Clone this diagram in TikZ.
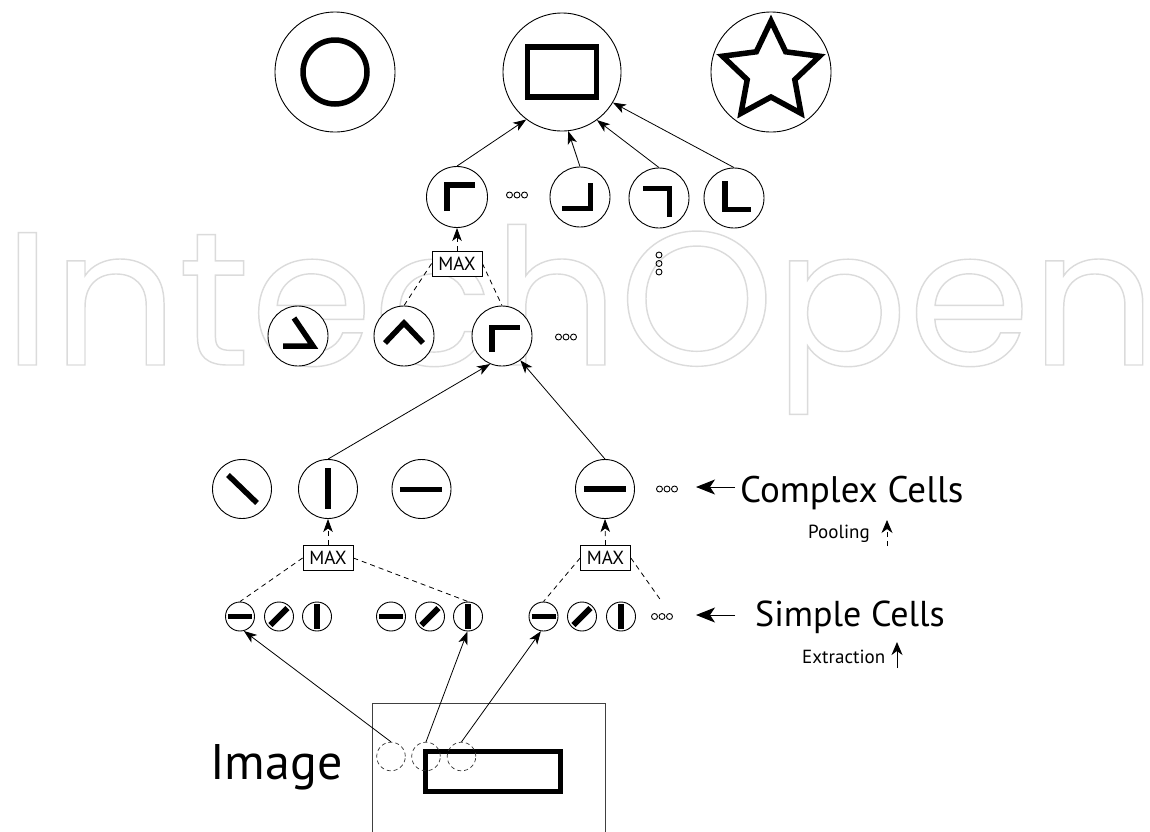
\documentclass[tikz,border=0pt]{standalone}
\usepackage{fontspec}
\setmainfont{PT Sans}
\newfontfamily\markfont{Poppins}
\usetikzlibrary{arrows.meta}

% outlined (stroked, unfilled) text for the background mark
\newcommand\outlinetext[1]{%
  \special{pdf:literal direct 1 Tr 1.4 w}#1\special{pdf:literal direct 0 Tr 0.4 w}}

\tikzset{
  cell/.style={circle, draw, line width=0.9pt, fill=white, inner sep=0pt, minimum size=#1},
  cell/.default=60pt,
  glyph/.style={line width=5.5pt, line cap=butt, line join=miter},
  thinglyph/.style={line width=5.8pt, line cap=butt},
  labelarrow/.style={line width=1pt, -{Stealth[length=19pt, width=15pt, inset=5pt]}},
  link/.style={line width=0.8pt, -{Stealth[length=13pt, width=9.5pt, inset=3.5pt]}},
  pooldash/.style={line width=0.8pt, dash pattern=on 5pt off 4pt},
  poollink/.style={pooldash, -{Stealth[length=13pt, width=9.5pt, inset=3.5pt]}},
  maxbox/.style={draw, line width=0.8pt, fill=white, minimum width=50pt, minimum height=25pt,
                 inner sep=0pt, font=\fontsize{19}{19}\selectfont},
  hdots/.pic={\foreach \d in {-7.5,0,7.5} \draw[line width=0.9pt] (\d,0) circle (3);},
  vdots/.pic={\foreach \d in {-8.5,0,8.5} \draw[line width=0.9pt] (0,\d) circle (3);},
  label/.style={anchor=base west, inner sep=0pt},
}

\begin{document}
\begin{tikzpicture}[x=1pt, y=-1pt]
\useasboundingbox (0,0) rectangle (1150,831);

% publisher mark in the background
\node[label, text=black!14] (mark) at (3,365)
  {\scalebox{1.04}[1]{\fontsize{190}{190}\markfont\outlinetext{IntechOpen}}};

% ---------- object layer ----------
\node[cell=120pt] (big1) at (335,72) {};
\node[cell=118pt] (big2) at (562,72) {};
\node[cell=120pt] (big3) at (771,72) {};
\draw[glyph] (big1.center) circle (32);
\draw[glyph] ([shift={(-34.5,-25)}]big2.center) rectangle ([shift={(34.5,25)}]big2.center);
\begin{scope}[shift={(big3.center)}]
  \draw[glyph] (0,-51) -- (14.7,-20.2) -- (48.5,-15.8) -- (23.8,7.7) -- (30,41.3)
    -- (0,25) -- (-30,41.3) -- (-23.8,7.7) -- (-48.5,-15.8) -- (-14.7,-20.2) -- cycle;
\end{scope}

% ---------- corner layer ----------
\node[cell=61pt] (c1) at (457,197) {};
\node[cell=60pt] (c2) at (580,197) {};
\node[cell=60pt] (c3) at (659,198) {};
\node[cell=60pt] (c4) at (734,198) {};
\pic at (517,195) {hdots};
\pic at (659,263.5) {vdots};
\begin{scope}[shift={(c1.center)}]
  \draw[glyph] (-10,14) -- (-10,-12) -- (18,-12);
\end{scope}
\begin{scope}[shift={(c2.center)}]
  \draw[glyph] (-18,11.5) -- (10.5,11.5) -- (10.5,-14);
\end{scope}
\begin{scope}[shift={(c3.center)}]
  \draw[glyph] (-16,-9.5) -- (10.5,-9.5) -- (10.5,19);
\end{scope}
\begin{scope}[shift={(c4.center)}]
  \draw[glyph] (-9,-17) -- (-9,11.5) -- (17,11.5);
\end{scope}

\draw[link] (c1.north) -- (big2.233);
\draw[link] (c2.north) -- (big2.-84);
\draw[link] (c3.north) -- (big2.-54);
\draw[link] (c4.north) -- (big2.-31);

\node[maxbox] (max1) at (457,263.5) {MAX};
\draw[poollink] (max1.north) -- (c1.south);

% ---------- composite layer ----------
\node[cell] (r1) at (298,336) {};
\node[cell] (r2) at (404,336) {};
\node[cell] (r3) at (502,336) {};
\pic at (566,337) {hdots};
\begin{scope}[shift={(r1.center)}]
  \draw[glyph] (-4,-18) -- (15,10) -- (-15,10);
\end{scope}
\begin{scope}[shift={(r2.center)}]
  \draw[glyph] (-19,7) -- (0,-13) -- (19,7);
\end{scope}
\begin{scope}[shift={(r3.center)}]
  \draw[glyph] (-10,16) -- (-10,-8.5) -- (18,-8.5);
\end{scope}
\draw[pooldash] (max1.west) -- (r2.north);
\draw[pooldash] (max1.east) -- (r3.north);

% ---------- complex cells ----------
\node[cell=59pt] (q1) at (242,489) {};
\node[cell=59pt] (q2) at (328,489) {};
\node[cell=59pt] (q3) at (421.5,489) {};
\node[cell=59pt] (q4) at (605,489) {};
\pic at (667,489) {hdots};
\draw[glyph] ([shift={(-14,-14)}]q1.center) -- ([shift={(15,14)}]q1.center);
\draw[glyph] ([shift={(0,-21)}]q2.center) -- ([shift={(0,20)}]q2.center);
\draw[glyph] ([shift={(-21.5,0.5)}]q3.center) -- ([shift={(20.5,0.5)}]q3.center);
\draw[glyph] ([shift={(-21,0)}]q4.center) -- ([shift={(21,0)}]q4.center);

\draw[link] (q2.north) -- (r3.-113);
\draw[link] (q4.north) -- (r3.-53);

\node[maxbox] (max2) at (328,558) {MAX};
\node[maxbox] (max3) at (605.5,558) {MAX};
\draw[poollink] (max2.north) -- (q2.south);
\draw[poollink] (max3.north) -- (q4.south);

% ---------- simple cells ----------
\foreach \n/\x in {s1/240, s2/279, s3/317, s4/391, s5/430, s6/468,
                   s7/543.5, s8/582, s9/621} {
  \node[cell=29pt] (\n) at (\x,616.5) {};
}
\foreach \n in {s1,s4,s7}
  \draw[thinglyph] ([shift={(-12,0)}]\n.center) -- ([shift={(12,0)}]\n.center);
\foreach \n in {s2,s5,s8}
  \draw[thinglyph] ([shift={(-8.5,8.5)}]\n.center) -- ([shift={(8.5,-8.5)}]\n.center);
\foreach \n in {s3,s6,s9}
  \draw[thinglyph] ([shift={(0,-12.5)}]\n.center) -- ([shift={(0,12.5)}]\n.center);
\pic at (662,616.5) {hdots};
\coordinate (sdots) at (662,602);

\draw[pooldash] (max2.west) -- (s1.north);
\draw[pooldash] (max2.east) -- (s6.north);
\draw[pooldash] (max3.west) -- (s7.north);
\draw[pooldash] (max3.east) -- (sdots);

% ---------- input image ----------
\draw[line width=1pt, black!75] (372,703) rectangle (605,840);
\draw[glyph] (425.5,751.5) rectangle (560.5,791.5);
\node[circle, draw=black!80, line width=0.7pt, dash pattern=on 4pt off 3pt,
      inner sep=0pt, minimum size=28.6pt] (ic1) at (391,756.5) {};
\node[circle, draw=black!80, line width=0.7pt, dash pattern=on 4pt off 3pt,
      inner sep=0pt, minimum size=28.6pt] (ic2) at (426,756.5) {};
\node[circle, draw=black!80, line width=0.7pt, dash pattern=on 4pt off 3pt,
      inner sep=0pt, minimum size=28.6pt] (ic3) at (461.5,756.5) {};
\draw[link] (ic1.north) -- (s1.-75);
\draw[link] (ic2.north) -- (s6.-92);
\draw[link] (ic3.north) -- (s7.-100);

% ---------- labels ----------
\node[label] (imglabel) at (210,779) {\fontsize{50}{50}\selectfont Image};
\node[label] (complex) at (740,502) {\fontsize{37}{37}\selectfont Complex Cells};
\node[label] (simple) at (755,626) {\fontsize{36}{36}\selectfont Simple Cells};
\node[label] (pooling) at (808,538) {\fontsize{19}{19}\selectfont Pooling};
\node[label] (extract) at (802,663) {\fontsize{19}{19}\selectfont Extraction};

\coordinate (cxA) at (735,487);
\coordinate (cxB) at (696,487);
\coordinate (smA) at (735,615);
\coordinate (smB) at (696,615);
\coordinate (plA) at (887,546);
\coordinate (plB) at (887,520);
\coordinate (exA) at (897,668);
\coordinate (exB) at (897,642);
\draw[labelarrow] (cxA) -- (cxB);
\draw[labelarrow] (smA) -- (smB);
\draw[pooldash, -{Stealth[length=13pt, width=11pt, inset=4pt]}] (plA) -- (plB);
\draw[line width=1pt, -{Stealth[length=13pt, width=11pt, inset=4pt]}] (exA) -- (exB);
\end{tikzpicture}
\end{document}
